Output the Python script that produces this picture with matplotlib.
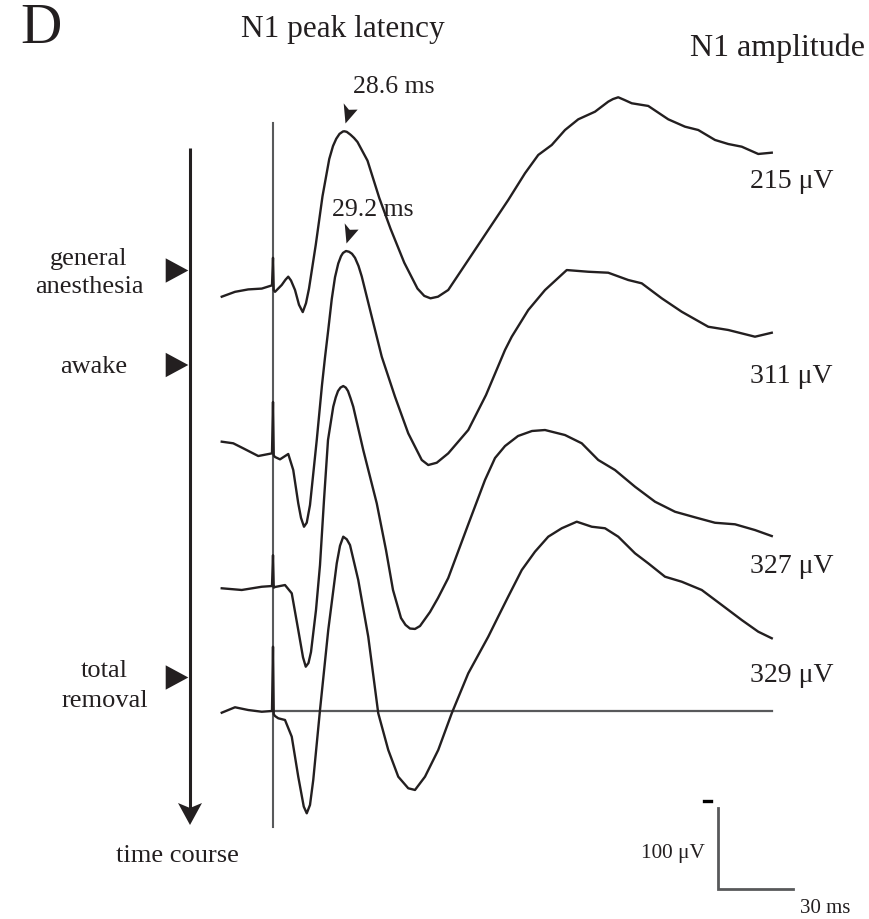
import numpy as np
import matplotlib
matplotlib.use("Agg")
import matplotlib.pyplot as plt
from matplotlib.path import Path
from matplotlib.patches import Polygon

plt.rcParams["font.family"] = ["Liberation Serif", "DejaVu Serif"]

# --- waveforms: time after stimulus (ms), potential (uV, negative up)
t_anesthesia = [-20.5, -15.2, -9.9, -4.5, -0.4, 0.0, 0.3, 0.8, 3.5, 5.0, 6.1, 7.2, 8.8, 10.4, 11.9,
                13.2, 14.4, 17.1, 19.8, 22.5, 24.0, 25.3, 26.6, 28.0, 28.6, 29.5, 31.0, 32.4, 33.8,
                37.8, 42.5, 47.0, 52.5, 57.8, 60.5, 63.0, 66.0, 70.1, 78.1, 86.1, 94.1, 100.8,
                106.1, 111.5, 116.8, 122.1, 128.8, 134.1, 136.0, 138.1, 140.5, 143.5, 150.1, 158.1,
                164.8, 170.1, 176.8, 182.1, 187.5, 194.1, 199.5]
v_anesthesia = [12, 6, 3, 2, -2, -36, 4, 6, -2.5, -9, -12.7, -8, 3.7, 22, 31, 20, 2, -52, -112,
                -158, -174, -183, -189, -192, -192.2, -191.5, -188, -184, -179, -156, -110, -72,
                -30, 2, 11, 14, 12, 3.7, -33.3, -70.4, -107.4, -140.4, -163, -175.3, -193.8, -207,
                -216.4, -228.8, -232, -234.2, -231, -226.8, -223.5, -207, -197.9, -193.8, -181.5,
                -176.5, -173.2, -164.2, -165.8]

t_awake = [-20.5, -15.9, -11.9, -5.9, -0.4, 0.0, 0.3, 0.8, 2.8, 6.1, 8.1, 10.1, 11.2, 12.4, 13.5,
           14.8, 17.5, 19.6, 20.8, 22.1, 23.5, 24.8, 26.1, 27.2, 28.0, 29.2, 30.4, 31.6, 32.8,
           34.2, 35.5, 39.5, 43.5, 48.8, 54.1, 59.5, 62.1, 65.5, 70.1, 78.1, 85.2, 92.8, 95.5,
           102.1, 108.8, 117.5, 126.1, 134.1, 142.1, 147.5, 155.5, 163.5, 174.1, 182.1, 192.8, 199.5]
v_awake = [-14, -12, -5.8, 3.7, 0.4, -63, 3, 4.9, 7.8, 1.2, 21, 62.1, 80, 91, 86, 64.2, -16, -84,
           -118, -152, -190, -217, -234, -243, -247, -249.4, -248.5, -246, -241, -231, -218,
           -168.3, -118.9, -69.5, -24.3, 8.6, 14.8, 12, 0.4, -28.4, -71.6, -127.2, -143.6, -176.5,
           -201.2, -225.9, -223.8, -222.6, -213.6, -209.5, -191, -174.4, -155.9, -151.9, -143.6,
           -148.5]

t_later = [-20.5, -12.5, -4.5, -0.4, 0.0, 0.3, 0.8, 4.8, 7.5, 10.1, 12.0, 13.1, 14.2, 15.2, 17.2,
           18.8, 20.4, 22.0, 24.1, 25.1, 26.0, 27.0, 28.1, 29.1, 30.0, 31.0, 32.1, 36.1, 41.5,
           45.2, 48.0, 51.2, 53.0, 54.8, 56.8, 58.8, 62.8, 66.0, 70.1, 78.0, 84.8, 88.8, 92.8,
           98.0, 103.6, 108.8, 116.8, 123.5, 130.1, 136.8, 144.8, 152.8, 160.8, 168.8, 176.8,
           184.8, 192.8, 199.5]
v_later = [2.8, 4.9, 0.9, 0, -38, 2, 1.2, -1.2, 9.0, 54.3, 88, 99.6, 95, 81.5, 29.6, -25.9, -106.2,
           -180.2, -221.4, -233, -240.7, -245, -246.9, -245, -240.7, -232, -221.4, -167.9, -102.1,
           -44.4, 4.9, 39.5, 48, 52.5, 53, 49.4, 32.1, 14.8, -9.9, -75.3, -130.9, -158, -172.8,
           -185.2, -191.4, -192.6, -186.4, -176.2, -155.6, -143.2, -122.6, -104.1, -91.7, -84.8,
           -78.1, -76.2, -69.1, -61.7]

t_removal = [-20.5, -15.2, -9.9, -4.5, -0.4, 0.0, 0.3, 0.8, 2.1, 4.8, 7.5, 10.1, 12.3, 13.5, 14.8,
             16.1, 18.8, 22.1, 25.5, 26.8, 28.1, 29.5, 30.8, 34.1, 38.1, 42.1, 46.1, 50.1, 54.1,
             56.8, 60.8, 66.1, 71.5, 78.1, 86.1, 90.0, 94.0, 99.5, 104.8, 110.1, 115.5, 121.5,
             127.5, 132.8, 138.1, 144.8, 150.1, 156.8, 163.5, 171.5, 179.5, 187.5, 194.1, 199.5]
v_removal = [2.1, -4.6, -1.2, 0.9, 0, -79.4, 4, 6.2, 9, 11.1, 31.7, 81.1, 118, 126.3, 116, 85.2,
             -1.2, -100, -182.3, -204, -215.2, -212, -204.9, -161.7, -91.7, 2.8, 48.1, 81.1, 95.4,
             97.5, 81.1, 48.1, 2.8, -46.5, -91.7, -116, -140.7, -174, -196.7, -215.2, -225.6,
             -233.7, -227.5, -225.6, -215.2, -194.7, -182.3, -165.8, -159.6, -149.4, -130.9,
             -112.3, -97.9, -89.8]

n1_latency_ms = [28.6, 29.2]
n1_amplitude_uv = [215, 311, 327, 329]
conditions = [("general", "anesthesia"), ("awake",), ("total", "removal")]
scale_uv, scale_ms = 100, 30

traces = [(t_anesthesia, v_anesthesia), (t_awake, v_awake),
          (t_later, v_later), (t_removal, v_removal)]

INK = "#231f20"
GREY = "#58595b"
W, H = 870, 919

# stacking offset of each trace (uV) -- layout only
offsets = [-523.5, -318.5, -154.3, 0.0]

fig = plt.figure(figsize=(W / 100, H / 100), dpi=100)
ax = fig.add_axes([0, 0, 1, 1])
ax.set_xlim(-109.2, 238.8)          # 2.5 px per ms, stimulus at x=273 px
ax.set_ylim(256.8, -877.8)          # 0.81 px per uV, negative up
ax.axis("off")

# pixel overlay for the annotation furniture
lay = fig.add_axes([0, 0, 1, 1])
lay.set_xlim(0, W)
lay.set_ylim(H, 0)
lay.axis("off")
lay.patch.set_alpha(0)

# stimulus onset and zero line of the last trace
ax.axvline(0, ymin=1 - 827 / H, ymax=1 - 123 / H, color=GREY, lw=1.5, zorder=1)
ax.plot([0, t_removal[-1]], [0, 0], color=GREY, lw=1.6, zorder=1)

for (t, v), off in zip(traces, offsets):
    ax.plot(t, np.asarray(v) + off, color=INK, lw=1.7, solid_joinstyle="round", zorder=3)

# N1 peak markers
head = Path([(0, 0), (-0.09, 1.0), (0.17, 0.68), (0.6, 0.69), (0, 0)],
            [Path.MOVETO, Path.LINETO, Path.LINETO, Path.LINETO, Path.CLOSEPOLY])
label_shift = [(49, 30), (27, 27)]   # px from arrow tip to label baseline
for i, lat in enumerate(n1_latency_ms):
    t, v = traces[i]
    tip = np.interp(lat, t, v) + offsets[i] - 10
    ax.plot(lat, tip, marker=head, ms=29, color=INK, mew=0, zorder=4)
    dx, dy = label_shift[i]
    ax.annotate(f"{lat} ms", (lat, tip), xytext=(dx * 0.72, dy * 0.72),
                textcoords="offset points", ha="center", va="baseline",
                fontsize=18.5, color=INK)

# N1 amplitudes at the right
amp_baselines = [188, 383, 573, 682]
for amp, yb in zip(n1_amplitude_uv, amp_baselines):
    lay.text(750, yb, f"{amp} \u03bcV", fontsize=20, color=INK, ha="left", va="baseline")

# scale bar
sx, sy = 178, 219.8
ax.plot([sx, sx, sx + scale_ms], [sy - scale_uv, sy, sy], color=GREY, lw=2, zorder=2,
        solid_joinstyle="miter")
lay.plot([704, 711], [801, 801], color="black", lw=2.4)
lay.text(705, 858, f"{scale_uv} \u03bcV", fontsize=15.3, color=INK, ha="right", va="baseline")
lay.text(825, 913, f"{scale_ms} ms", fontsize=15, color=INK, ha="center", va="baseline")

# time course arrow and condition markers
lay.plot([190, 190], [148, 812], color=INK, lw=2.2, solid_capstyle="butt")
lay.add_patch(Polygon([(178, 803), (190, 808), (202, 803), (190, 825)], closed=True,
                      color=INK, lw=0))
marker_y = [270.5, 365, 677.5]
label_x = [89, 93.5, 104.5]
label_base = [[265, 292.7], [373], [676.7, 706.7]]
for lines, yc, xc, bases in zip(conditions, marker_y, label_x, label_base):
    lay.add_patch(Polygon([(165.7, yc - 12.2), (188.3, yc), (165.7, yc + 12.2)],
                          closed=True, color=INK, lw=0))
    for line, yb in zip(lines, bases):
        lay.text(xc, yb, line, fontsize=19, color=INK, ha="center", va="baseline")
lay.text(177.5, 861.7, "time course", fontsize=19, color=INK, ha="center", va="baseline")

# headings
lay.text(20, 43, "D", fontsize=41, color=INK, ha="left", va="baseline")
lay.text(342.5, 36.7, "N1 peak latency", fontsize=22.5, color=INK, ha="center", va="baseline")
lay.text(865, 56, "N1 amplitude", fontsize=23, color=INK, ha="right", va="baseline")

fig.savefig("out.png", dpi=100)
